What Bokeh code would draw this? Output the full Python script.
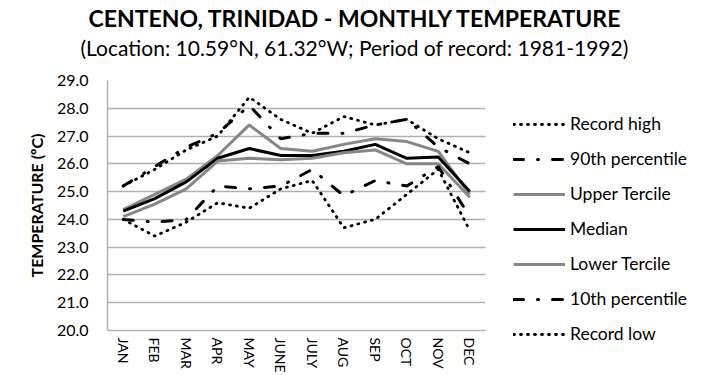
from bokeh.plotting import figure
from bokeh.models import (FactorRange, Range1d, Legend, LegendItem, Title,
                          FixedTicker, PrintfTickFormatter)
from bokeh.embed import file_html
from bokeh.resources import INLINE

months = ["JAN", "FEB", "MAR", "APR", "MAY", "JUNE", "JULY", "AUG", "SEP", "OCT", "NOV", "DEC"]
record_high = [25.2, 25.8, 26.5, 27.0, 28.4, 27.6, 27.1, 27.7, 27.4, 27.6, 26.9, 26.4]
p90 = [25.2, 25.9, 26.6, 27.1, 28.1, 26.9, 27.1, 27.1, 27.4, 27.6, 26.6, 26.0]
upper_tercile = [24.35, 24.9, 25.45, 26.3, 27.4, 26.55, 26.45, 26.7, 26.9, 26.8, 26.45, 24.9]
median = [24.3, 24.75, 25.35, 26.2, 26.55, 26.3, 26.3, 26.45, 26.7, 26.2, 26.25, 25.0]
lower_tercile = [24.1, 24.55, 25.1, 26.1, 26.2, 26.15, 26.2, 26.4, 26.5, 26.0, 26.0, 24.8]
p10 = [24.0, 23.9, 24.0, 25.2, 25.1, 25.2, 25.8, 24.85, 25.4, 25.2, 25.9, 24.1]
record_low = [24.0, 23.4, 23.9, 24.6, 24.4, 25.1, 25.4, 23.7, 24.0, 24.9, 25.8, 23.6]
y_ticks = [20, 21, 22, 23, 24, 25, 26, 27, 28, 29]

title_text = "CENTENO, TRINIDAD - MONTHLY TEMPERATURE"
subtitle_text = "(Location: 10.59°N, 61.32°W; Period of record: 1981-1992)"

FONT = "Lato"
GRAY = "#878787"
GRID = "#b0b0b0"

p = figure(frame_width=378, frame_height=250,
           x_range=FactorRange(factors=months, range_padding=0),
           y_range=Range1d(20, 29),
           output_backend="svg", toolbar_location=None, title=None,
           min_border_left=107, min_border_right=225,
           min_border_top=80, min_border_bottom=45)
p.background_fill_color = "white"
p.border_fill_color = "white"
p.outline_line_color = None

# axes
p.yaxis.ticker = FixedTicker(ticks=y_ticks)
p.yaxis.formatter = PrintfTickFormatter(format="%.1f")
p.yaxis.axis_label = "TEMPERATURE (ºC)"
p.yaxis.axis_label_text_font = FONT
p.yaxis.axis_label_text_font_style = "bold"
p.yaxis.axis_label_text_font_size = "16px"
p.yaxis.axis_label_text_color = "black"
p.yaxis.axis_label_standoff = 8
p.yaxis.major_label_text_font = FONT
p.yaxis.major_label_text_font_size = "16px"
p.yaxis.major_label_text_color = "black"
p.yaxis.major_label_standoff = 19
for ax in (p.yaxis, p.xaxis):
    ax.major_tick_line_color = None
    ax.minor_tick_line_color = None
    ax.major_tick_out = 0
    ax.major_tick_in = 0
    ax.axis_line_color = GRID
    ax.axis_line_width = 1.5
p.xaxis.major_label_orientation = "vertical"
p.xaxis.major_label_text_font = FONT
p.xaxis.major_label_text_font_size = "14px"
p.xaxis.major_label_text_color = "black"
p.xaxis.major_label_standoff = 7

p.xgrid.grid_line_color = None
p.ygrid.grid_line_color = GRID
p.ygrid.grid_line_width = 1.5

dot = dict(line_dash="1 6", line_cap="round", line_width=2.8, line_color="black")
dashdot = dict(line_dash="10 14 1 14", line_cap="round", line_width=3, line_color="black")
solid_gray = dict(line_width=3, line_color=GRAY)
solid_black = dict(line_width=3, line_color="black")

series = [
    ("Record high", record_high, dot),
    ("90th percentile", p90, dashdot),
    ("Upper Tercile", upper_tercile, solid_gray),
    ("Median", median, solid_black),
    ("Lower Tercile", lower_tercile, solid_gray),
    ("10th percentile", p10, dashdot),
    ("Record low", record_low, dot),
]

items = []
for name, vals, style in series:
    r = p.line(months, vals, **style)
    items.append(LegendItem(label=name, renderers=[r]))

legend = Legend(items=items, location=(28, -14), orientation="vertical",
                glyph_width=52, glyph_height=20, label_height=20, spacing=14,
                label_standoff=5, padding=2, margin=0,
                label_text_font=FONT, label_text_font_size="17.5px",
                label_text_color="black",
                border_line_color=None, background_fill_alpha=0)
p.add_layout(legend, "right")

# titles: first added sits closest to the plot
p.add_layout(Title(text=" ", text_font_size="16px", standoff=2), "above")
p.add_layout(Title(text=subtitle_text, align="left", offset=-27, standoff=0,
                   text_font=FONT, text_font_size="21px", text_font_style="normal",
                   text_color="black"), "above")
p.add_layout(Title(text=title_text, align="left", offset=-19, standoff=2,
                   text_font=FONT, text_font_size="23px", text_font_style="bold",
                   text_color="black"), "above")

open("out.html", "w").write(file_html(p, INLINE))
